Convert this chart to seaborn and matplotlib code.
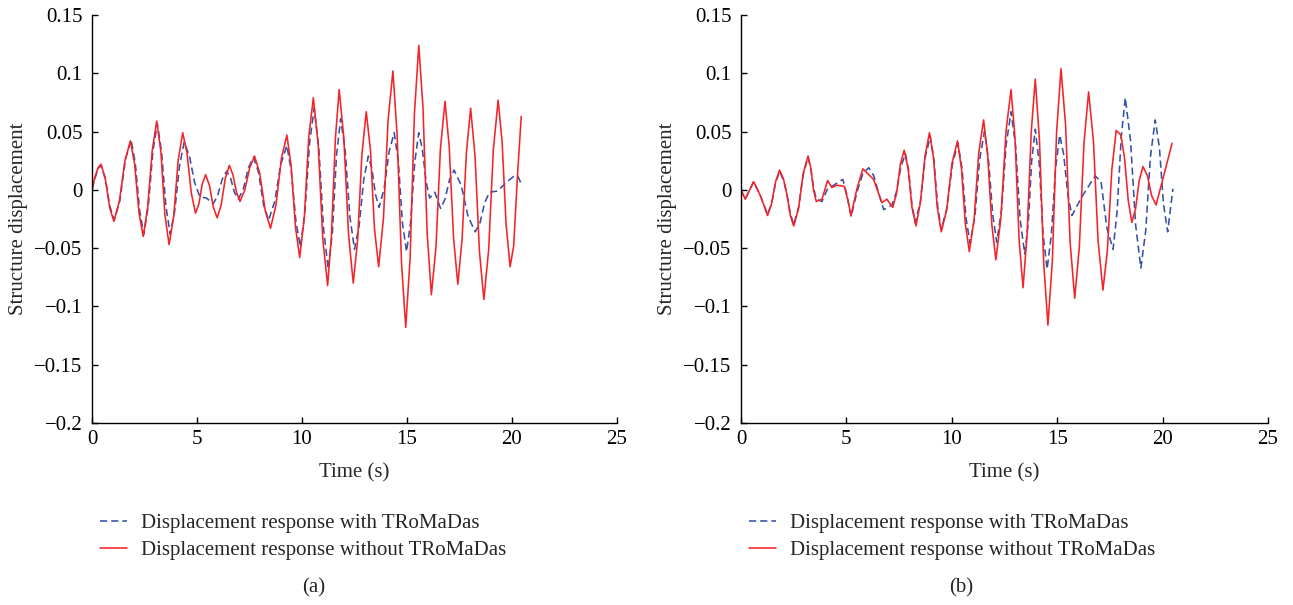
import numpy as np
import pandas as pd
import matplotlib
matplotlib.use("Agg")
import matplotlib.pyplot as plt
import seaborn as sns

# ---------------- data ----------------
# Panel (a): response without TRoMaDas (red, solid)
a_red_t = [0, 0.14, 0.29, 0.43, 0.63, 0.84, 1.04, 1.30, 1.57, 1.83, 2.03, 2.24, 2.44, 2.65,
           2.87, 3.08, 3.28, 3.47, 3.67, 3.89, 4.10, 4.32, 4.52, 4.73, 4.93, 5.09, 5.25, 5.41,
           5.59, 5.78, 5.96, 6.15, 6.35, 6.54, 6.71, 6.88, 7.05, 7.28, 7.51, 7.74, 7.99, 8.25,
           8.50, 8.76, 9.02, 9.28, 9.48, 9.69, 9.89, 10.11, 10.32, 10.54, 10.77, 10.99, 11.22,
           11.40, 11.59, 11.77, 11.99, 12.22, 12.44, 12.65, 12.85, 13.06, 13.26, 13.45, 13.65,
           13.88, 14.10, 14.33, 14.53, 14.74, 14.94, 15.15, 15.35, 15.56, 15.76, 15.96, 16.16,
           16.38, 16.59, 16.81, 17.01, 17.22, 17.42, 17.62, 17.83, 18.03, 18.24, 18.45, 18.66,
           18.89, 19.11, 19.34, 19.53, 19.72, 19.91, 20.08, 20.26, 20.44]
a_red_y = [0, 0.011, 0.019, 0.022, 0.010, -0.015, -0.027, -0.010, 0.025, 0.042, 0.022, -0.020,
           -0.040, -0.015, 0.034, 0.059, 0.033, -0.021, -0.047, -0.023, 0.025, 0.049, 0.032,
           -0.003, -0.020, -0.012, 0.005, 0.013, 0.004, -0.015, -0.024, -0.013, 0.010, 0.021,
           0.013, -0.002, -0.010, 0.000, 0.019, 0.029, 0.014, -0.018, -0.033, -0.013, 0.027,
           0.047, 0.021, -0.032, -0.058, -0.024, 0.045, 0.079, 0.039, -0.042, -0.082, -0.040,
           0.044, 0.086, 0.045, -0.039, -0.080, -0.043, 0.030, 0.067, 0.034, -0.033, -0.066,
           -0.024, 0.060, 0.102, 0.047, -0.063, -0.118, -0.058, 0.064, 0.124, 0.071, -0.037,
           -0.090, -0.049, 0.035, 0.076, 0.037, -0.042, -0.081, -0.043, 0.032, 0.070, 0.029,
           -0.053, -0.094, -0.051, 0.034, 0.077, 0.041, -0.030, -0.066, -0.048, 0.012, 0.063]

# Panel (a): response with TRoMaDas (blue, dashed)
a_blue_t = [0, 0.14, 0.29, 0.43, 0.64, 0.85, 1.06, 1.33, 1.59, 1.86, 2.06, 2.27, 2.47, 2.68,
            2.90, 3.11, 3.31, 3.52, 3.72, 3.94, 4.17, 4.39, 4.64, 4.89, 5.14, 5.45, 5.77, 5.98,
            6.20, 6.41, 6.60, 6.78, 6.97, 7.21, 7.45, 7.69, 7.93, 8.17, 8.41, 8.70, 8.99, 9.28,
            9.49, 9.71, 9.92, 10.14, 10.36, 10.58, 10.80, 11.03, 11.25, 11.45, 11.64, 11.84,
            12.06, 12.28, 12.50, 12.72, 12.94, 13.16, 13.33, 13.50, 13.67, 13.91, 14.15, 14.39,
            14.59, 14.78, 14.98, 15.17, 15.37, 15.56, 15.73, 15.91, 16.08, 16.32, 16.60, 16.81,
            17.03, 17.24, 17.58, 17.91, 18.25, 18.48, 18.70, 18.93, 19.32, 19.70, 20.11, 20.27,
            20.47]
a_blue_y = [0, 0.010, 0.018, 0.021, 0.009, -0.014, -0.026, -0.009, 0.026, 0.043, 0.023, -0.018,
            -0.038, -0.014, 0.033, 0.057, 0.033, -0.014, -0.038, -0.018, 0.021, 0.041, 0.029,
            0.006, -0.006, -0.007, -0.012, -0.005, 0.009, 0.016, 0.010, -0.002, -0.008, 0.001,
            0.019, 0.028, 0.015, -0.013, -0.026, -0.010, 0.022, 0.038, 0.016, -0.027, -0.049,
            -0.019, 0.040, 0.070, 0.036, -0.034, -0.068, -0.036, 0.029, 0.061, 0.033, -0.023,
            -0.051, -0.031, 0.009, 0.029, 0.018, -0.004, -0.015, 0.001, 0.033, 0.049, 0.024,
            -0.028, -0.053, -0.028, 0.024, 0.049, 0.035, 0.007, -0.007, -0.002, -0.016, -0.008,
            0.009, 0.017, 0.004, -0.023, -0.036, -0.028, -0.011, -0.002, -0.001, 0.006, 0.012,
            0.012, 0.004]

# Panel (b): response without TRoMaDas (red, solid)
b_red_t = [0, 0.20, 0.60, 0.92, 1.26, 1.45, 1.64, 1.83, 2.02, 2.18, 2.34, 2.50, 2.73, 2.95,
           3.18, 3.31, 3.44, 3.57, 3.84, 4.11, 4.31, 4.55, 4.90, 5.06, 5.22, 5.50, 5.78, 6.29,
           6.68, 6.92, 7.20, 7.38, 7.56, 7.74, 7.93, 8.11, 8.30, 8.51, 8.73, 8.94, 9.13, 9.31,
           9.50, 9.76, 10.01, 10.27, 10.46, 10.64, 10.83, 11.06, 11.28, 11.51, 11.70, 11.90,
           12.09, 12.33, 12.57, 12.81, 13.00, 13.19, 13.38, 13.57, 13.77, 13.96, 14.16, 14.36,
           14.56, 14.77, 14.97, 15.18, 15.40, 15.61, 15.83, 16.05, 16.27, 16.49, 16.72, 16.94,
           17.17, 17.38, 17.59, 17.80, 18.02, 18.19, 18.37, 18.54, 18.72, 18.89, 19.07, 19.28,
           19.48, 19.69, 20.05, 20.45]
b_red_y = [0, -0.008, 0.007, -0.005, -0.022, -0.012, 0.007, 0.017, 0.009, -0.004, -0.022,
           -0.031, -0.016, 0.014, 0.029, 0.019, 0.000, -0.010, -0.008, 0.008, 0.002, 0.004,
           0.003, -0.008, -0.022, 0.001, 0.018, 0.009, -0.011, -0.008, -0.015, -0.003, 0.022,
           0.034, 0.018, -0.015, -0.031, -0.011, 0.029, 0.049, 0.028, -0.015, -0.036, -0.017,
           0.023, 0.042, 0.018, -0.029, -0.053, -0.025, 0.032, 0.060, 0.030, -0.030, -0.060,
           -0.024, 0.050, 0.086, 0.044, -0.042, -0.084, -0.039, 0.050, 0.095, 0.042, -0.063,
           -0.116, -0.061, 0.049, 0.104, 0.055, -0.044, -0.093, -0.049, 0.040, 0.084, 0.042,
           -0.044, -0.086, -0.052, 0.017, 0.051, 0.047, 0.028, -0.009, -0.028, -0.016, 0.008,
           0.020, 0.012, -0.005, -0.013, 0.012, 0.040]

# Panel (b): response with TRoMaDas (blue, dashed)
b_blue_t = [0, 0.20, 0.60, 0.92, 1.26, 1.45, 1.64, 1.83, 2.02, 2.18, 2.34, 2.50, 2.73, 2.95,
            3.18, 3.31, 3.44, 3.57, 3.84, 4.11, 4.40, 4.83, 5.02, 5.22, 5.50, 5.78, 6.06, 6.30,
            6.55, 6.77, 7.16, 7.37, 7.59, 7.80, 7.96, 8.11, 8.27, 8.51, 8.74, 8.98, 9.15, 9.33,
            9.50, 9.76, 10.03, 10.29, 10.48, 10.68, 10.87, 11.10, 11.32, 11.55, 11.74, 11.94,
            12.13, 12.36, 12.58, 12.81, 13.03, 13.24, 13.46, 13.63, 13.79, 13.96, 14.15, 14.33,
            14.52, 14.72, 14.92, 15.12, 15.31, 15.51, 15.70, 16.17, 16.80, 17.08, 17.36, 17.65,
            17.84, 18.04, 18.23, 18.48, 18.72, 18.97, 19.20, 19.42, 19.65, 19.85, 20.04, 20.24,
            20.49]
b_blue_y = [0, -0.008, 0.007, -0.005, -0.021, -0.012, 0.006, 0.016, 0.008, -0.004, -0.020,
            -0.030, -0.015, 0.013, 0.028, 0.018, 0.002, -0.008, -0.010, 0.001, 0.004, 0.009,
            -0.004, -0.023, -0.002, 0.014, 0.019, 0.012, -0.004, -0.017, -0.013, -0.002, 0.020,
            0.031, 0.016, -0.013, -0.028, -0.010, 0.028, 0.046, 0.026, -0.014, -0.034, -0.016,
            0.022, 0.040, 0.019, -0.025, -0.046, -0.022, 0.026, 0.050, 0.026, -0.021, -0.045,
            -0.017, 0.039, 0.067, 0.037, -0.025, -0.055, -0.028, 0.025, 0.052, 0.022, -0.038,
            -0.068, -0.039, 0.018, 0.047, 0.030, -0.005, -0.022, -0.006, 0.012, 0.007, -0.033,
            -0.051, -0.019, 0.046, 0.079, 0.042, -0.030, -0.067, -0.035, 0.028, 0.060, 0.036,
            -0.012, -0.036, 0.001]

x_ticks = [0, 5, 10, 15, 20, 25]
y_ticks = [-0.2, -0.15, -0.1, -0.05, 0, 0.05, 0.1, 0.15]
y_tick_labels = ["\u22120.2", "\u22120.15", "\u22120.1", "\u22120.05", "0", "0.05", "0.1", "0.15"]
label_with = "Displacement response with TRoMaDas"
label_without = "Displacement response without TRoMaDas"
panel_tags = ["(a)", "(b)"]

# ---------------- style ----------------
sns.set_style("ticks")
plt.rcParams["font.family"] = ["Liberation Serif", "DejaVu Serif"]
plt.rcParams["axes.unicode_minus"] = True
FS = 15
RED = "#f42328"
BLUE = "#3453a6"

fig = plt.figure(figsize=(12.93, 6.05), dpi=100)
axes_boxes = [
    [92 / 1293, 1 - 423 / 605, 525 / 1293, 408 / 605],
    [741 / 1293, 1 - 423 / 605, 527 / 1293, 408 / 605],
]
panels = [
    (a_blue_t, a_blue_y, a_red_t, a_red_y),
    (b_blue_t, b_blue_y, b_red_t, b_red_y),
]
tag_x = [0.423, 0.417]

for i, (box, (bt, by, rt, ry), tag) in enumerate(zip(axes_boxes, panels, panel_tags)):
    ax = fig.add_axes(box)
    df_b = pd.DataFrame({"t": bt, "y": by})
    df_r = pd.DataFrame({"t": rt, "y": ry})
    sns.lineplot(data=df_b, x="t", y="y", ax=ax, color=BLUE, lw=1.15,
                 linestyle=(0, (4.5, 2.5)), label=label_with, sort=False)
    sns.lineplot(data=df_r, x="t", y="y", ax=ax, color=RED, lw=1.15,
                 label=label_without, sort=False)
    ax.set_xlim(0, 25)
    ax.set_ylim(-0.2, 0.15)
    ax.set_xticks(x_ticks)
    ax.set_xticklabels([str(v) for v in x_ticks], fontsize=FS)
    ax.set_yticks(y_ticks)
    ax.set_yticklabels(y_tick_labels, fontsize=FS)
    ax.tick_params(direction="in", length=4, width=1, colors="black")
    ax.tick_params(axis="y", pad=7)
    ax.tick_params(axis="x", pad=5)
    for s in ["top", "right"]:
        ax.spines[s].set_visible(False)
    for s in ["left", "bottom"]:
        ax.spines[s].set_color("black")
        ax.spines[s].set_linewidth(1.0)
    ax.set_xlabel("Time (s)", fontsize=FS, labelpad=10.5)
    ax.set_ylabel("Structure displacement", fontsize=FS, labelpad=4)
    handles, labels = ax.get_legend_handles_labels()
    ax.legend(handles, labels, loc="upper left", bbox_to_anchor=(0.015, -0.222),
              frameon=False, fontsize=FS, handlelength=1.3, handletextpad=0.67,
              borderpad=0, borderaxespad=0, labelspacing=0.36)
    ax.text(tag_x[i], -0.404, tag, transform=ax.transAxes, fontsize=FS,
            ha="center", va="center")

fig.savefig("out.png", dpi=100)
